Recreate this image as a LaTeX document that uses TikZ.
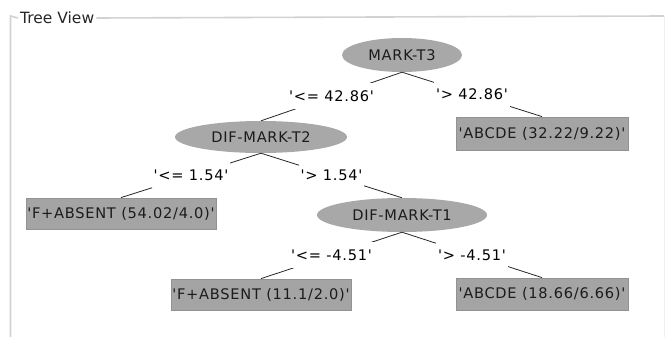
\documentclass[tikz,border=0pt]{standalone}
\usepackage{fontspec}
\usetikzlibrary{shapes.geometric}
\newfontfamily\treefont[Ligatures=TeXOff,LetterSpace=5]{DejaVu Sans}
\newfontfamily\titlefont[Ligatures=TeXOff]{DejaVu Sans}
\definecolor{framegray}{HTML}{D2D2D2}
\definecolor{frameright}{HTML}{EFEFEF}
\definecolor{nodegray}{HTML}{A8A8A8}
\definecolor{leafgray}{HTML}{A4A4A4}
\definecolor{leafedge}{HTML}{929292}
\definecolor{inktext}{HTML}{1C1C1C}
\tikzset{
  split/.style={ellipse, fill=nodegray, inner sep=0pt, text=inktext,
    font=\treefont\fontsize{14.6}{16}\selectfont},
  leaf/.style={rectangle, fill=leafgray, draw=leafedge, line width=0.8pt,
    inner sep=0pt, text=inktext, font=\treefont\fontsize{14.6}{16}\selectfont},
  cond/.style={fill=white, inner xsep=2pt, inner ysep=0pt, minimum height=26pt,
    text=black, font=\treefont\fontsize{14.6}{16}\selectfont},
  branch/.style={draw=black!85, line width=0.8pt},
  frame/.style={draw=framegray, line width=1.6pt},
}
\begin{document}
\begin{tikzpicture}[x=1pt, y=-1pt]
  \useasboundingbox (0,0) rectangle (665,337);

  % panel border with its title
  \node[anchor=west, inner sep=2pt, text=black!85,
        font=\titlefont\fontsize{15.5}{17}\selectfont] (title) at (18,18) {Tree View};
  \coordinate (tl) at (10.5,16);
  \coordinate (bl) at (10.5,337);
  \coordinate (tr) at (664,16);
  \coordinate (br) at (664,337);
  \draw[frame] (title.west) -- (tl) -- (bl);
  \draw[frame] (title.east) -- (tr);
  \draw[draw=frameright, line width=1pt] (tr) -- (br);

  % decision nodes
  \node[split, minimum width=120pt, minimum height=34pt] (t3) at (402,55) {MARK-T3};
  \node[split, minimum width=172pt, minimum height=32pt] (t2) at (261,137) {DIF-MARK-T2};
  \node[split, minimum width=170pt, minimum height=34pt] (t1) at (402,215) {DIF-MARK-T1};

  % leaves
  \node[leaf, minimum width=172pt, minimum height=33pt] (b1) at (542,133.5) {'ABCDE (32.22/9.22)'};
  \node[leaf, minimum width=190pt, minimum height=31pt] (b2) at (121,213.5) {'F+ABSENT (54.02/4.0)'};
  \node[leaf, minimum width=180pt, minimum height=31pt] (b3) at (261,294.5) {'F+ABSENT (11.1/2.0)'};
  \node[leaf, minimum width=172pt, minimum height=32pt] (b4) at (542,294) {'ABCDE (18.66/6.66)'};

  % branches with their conditions
  \draw[branch] (t3.south) -- node[cond] (c1) {'<= 42.86'} (t2.north);
  \draw[branch] (t3.south) -- node[cond] (c2) {'> 42.86'} (b1.north);
  \draw[branch] (t2.south) -- node[cond] (c3) {'<= 1.54'} (b2.north);
  \draw[branch] (t2.south) -- node[cond] (c4) {'> 1.54'} (t1.north);
  \draw[branch] (t1.south) -- node[cond] (c5) {'<= -4.51'} (b3.north);
  \draw[branch] (t1.south) -- node[cond] (c6) {'> -4.51'} (b4.north);
\end{tikzpicture}
\end{document}
